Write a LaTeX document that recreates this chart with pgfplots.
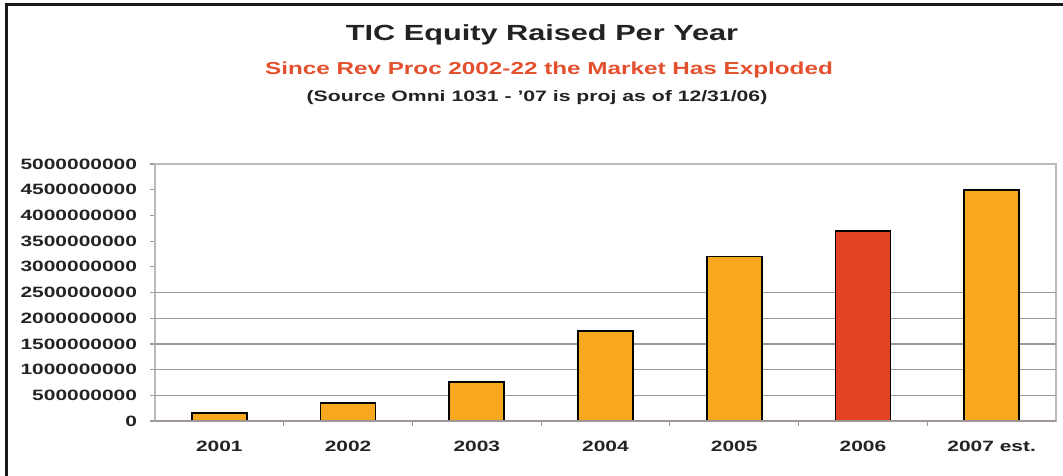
\documentclass[border=0pt]{standalone}
\usepackage{pgfplots}
\pgfplotsset{compat=1.18}
\usepackage{fontspec}
\setmainfont{Liberation Sans}[FakeStretch=1.4]
\definecolor{barorange}{RGB}{247,168,30}
\definecolor{barred}{RGB}{228,66,36}
\definecolor{subred}{RGB}{228,80,45}
\definecolor{gridgray}{RGB}{160,150,150}
\definecolor{boxgray}{RGB}{185,185,185}
\definecolor{txt}{RGB}{35,35,35}
\begin{document}
\begin{tikzpicture}
\useasboundingbox (0,0) rectangle (531.5bp,238bp);
\fill[white] (0,0) rectangle (531.5bp,238bp);
\draw[line width=1.2bp, black!90] (3.2bp,0) -- (3.2bp,235.7bp) -- (531.5bp,235.7bp);
\node[font=\bfseries\fontsize{11}{13}\selectfont, text=txt] at (271bp,220.5bp) {TIC Equity Raised Per Year};
\node[font=\bfseries\fontsize{8.7}{10}\selectfont, text=subred] at (274.5bp,203bp) {Since Rev Proc 2002-22 the Market Has Exploded};
\node[font=\bfseries\fontsize{7.6}{9}\selectfont, text=txt] at (268.5bp,189bp) {(Source Omni 1031 - '07 is proj as of 12/31/06)};
\begin{axis}[
  at={(77.5bp,27.5bp)}, anchor=south west,
  scale only axis, width=450.5bp, height=128.5bp,
  xmin=-0.5, xmax=6.5, ymin=0, ymax=5000000000,
  scaled y ticks=false,
  axis line style={boxgray, line width=0.6bp},
  xtick={0,1,2,3,4,5,6},
  xticklabels={2001,2002,2003,2004,2005,2006,2007 est.},
  minor xtick={0.5,1.5,2.5,3.5,4.5,5.5},
  major x tick style={draw=none},
  minor x tick style={gridgray, line width=0.6bp},
  minor tick length=2.5bp,
  ytick={0,500000000,1000000000,1500000000,2000000000,2500000000,3000000000,3500000000,4000000000,4500000000,5000000000},
  yticklabels={0,500000000,1000000000,1500000000,2000000000,2500000000,3000000000,3500000000,4000000000,4500000000,5000000000},
  major y tick style={gridgray, line width=0.6bp},
  major tick length=2.5bp,
  tick align=outside,
  tick pos=left,
  extra y ticks={500000000,1000000000,1500000000,2000000000,2500000000},
  extra y tick labels={},
  extra y tick style={ymajorgrids=true, major grid style={gridgray, line width=0.6bp}, major tick length=0pt},
  tick label style={font=\bfseries\fontsize{7.5}{9}\selectfont, text=txt},
  yticklabel style={xshift=-3bp},
  xticklabel style={yshift=-4bp},
  clip=false,
]
\addplot[ybar, bar width=27.5bp, fill=barorange, draw=black, line width=0.9bp]
  coordinates {(0,160000000) (1,357000000) (2,754000000) (3,1750000000) (4,3200000000) (6,4500000000)};
\addplot[ybar, bar width=27.5bp, fill=barred, draw=black, line width=0.9bp]
  coordinates {(5,3700000000)};
\draw[gridgray, line width=0.7bp] (axis cs:-0.5,0) -- (axis cs:6.5,0);
\end{axis}
\end{tikzpicture}
\end{document}
